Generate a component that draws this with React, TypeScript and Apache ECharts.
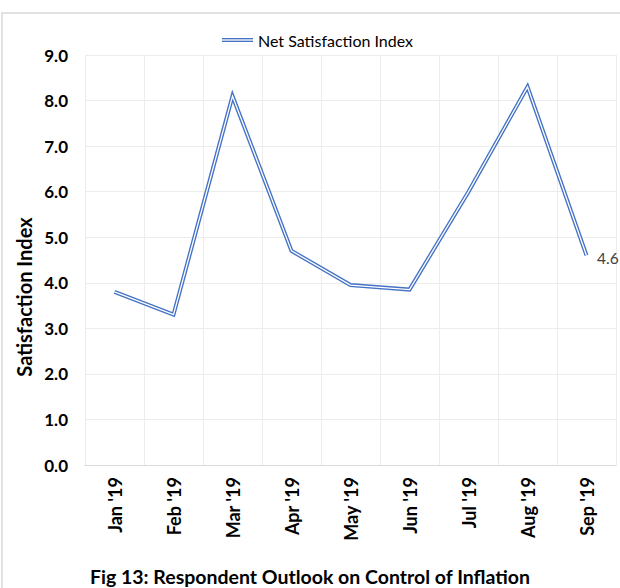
import React, { useEffect, useRef } from "react";
import * as echarts from "echarts";

const categories = ["Jan '19", "Feb '19", "Mar '19", "Apr '19", "May '19", "Jun '19", "Jul '19", "Aug '19", "Sep '19"];
const netSatisfaction = [3.8, 3.3, 8.1, 4.7, 3.95, 3.85, 6.0, 8.3, 4.6];
const yTicks = { min: 0, max: 9, interval: 1 };
const seriesName = "Net Satisfaction Index";
const yAxisTitle = "Satisfaction Index";
const chartTitle = "Fig 13: Respondent Outlook on Control of Inflation";

const FONT = "Lato, 'Noto Sans', sans-serif";
const BLUE = "#4472C4";

export default function App() {
  const ref = useRef<HTMLDivElement>(null);
  useEffect(() => {
    if (!ref.current) return;
    const chart = echarts.init(ref.current, null, { renderer: "svg" });
    const lastIdx = netSatisfaction.length - 1;
    chart.setOption({
      animation: false,
      backgroundColor: "#ffffff",
      grid: { left: 85, right: 4, top: 55, bottom: 123 },
      xAxis: {
        type: "category",
        data: categories,
        boundaryGap: true,
        axisLine: { show: true, lineStyle: { color: "#d9d9d9", width: 1 } },
        axisTick: { show: false },
        splitLine: { show: true, lineStyle: { color: "#ececec", width: 1 } },
        axisLabel: {
          rotate: 90,
          margin: 12,
          color: "#000",
          fontFamily: FONT,
          fontWeight: "bold",
          fontSize: 18,
          interval: 0,
        },
      },
      yAxis: {
        type: "value",
        min: yTicks.min,
        max: yTicks.max,
        interval: yTicks.interval,
        axisLine: { show: false },
        axisTick: { show: false },
        splitLine: { show: true, lineStyle: { color: "#ececec", width: 1 } },
        axisLabel: {
          margin: 17,
          color: "#000",
          fontFamily: FONT,
          fontWeight: "bold",
          fontSize: 17,
          formatter: (v: number) => v.toFixed(1),
        },
      },
      series: [
        {
          name: seriesName,
          type: "line",
          data: netSatisfaction,
          symbol: "none",
          lineStyle: { color: BLUE, width: 4, join: "miter" },
          z: 2,
        },
        {
          name: seriesName + " inner",
          type: "line",
          data: netSatisfaction,
          symbol: "circle",
          symbolSize: 1,
          showSymbol: true,
          itemStyle: { color: "rgba(255,255,255,0)" },
          label: {
            show: true,
            position: "right",
            distance: 10,
            offset: [0, 3],
            formatter: (p: any) => (p.dataIndex === lastIdx ? Number(p.value).toFixed(1) : ""),
            color: "#404040",
            fontFamily: FONT,
            fontSize: 15.5,
          },
          lineStyle: { color: "#ffffff", width: 1.3, join: "miter" },
          z: 3,
        },
      ],
      graphic: [
        {
          type: "rect",
          shape: { x: 2, y: 13, width: 700, height: 700 },
          style: { fill: "none", stroke: "#d9d9d9", lineWidth: 1.5 },
          silent: true,
          z: 0,
        },
        {
          type: "text",
          x: 24,
          y: 297,
          rotation: Math.PI / 2,
          style: {
            text: yAxisTitle,
            fill: "#000",
            font: `bold 20px ${FONT}`,
            verticalAlign: "middle",
            textAlign: "center",
          },
          z: 10,
        },
        {
          type: "line",
          shape: { x1: 222, y1: 40, x2: 253, y2: 40 },
          style: { stroke: BLUE, lineWidth: 4 },
          z: 10,
        },
        {
          type: "line",
          shape: { x1: 222, y1: 40, x2: 253, y2: 40 },
          style: { stroke: "#ffffff", lineWidth: 1.3 },
          z: 11,
        },
        {
          type: "text",
          x: 258,
          y: 40,
          style: {
            text: seriesName,
            fill: "#000",
            font: `16px ${FONT}`,
            verticalAlign: "middle",
            textAlign: "left",
          },
          z: 10,
        },
        {
          type: "text",
          x: 310,
          y: 576,
          style: {
            text: chartTitle,
            fill: "#000",
            font: `bold 19.5px ${FONT}`,
            verticalAlign: "middle",
            textAlign: "center",
          },
          z: 10,
        },
      ],
    });
    return () => chart.dispose();
  }, []);
  return <div ref={ref} style={{ width: 620, height: 588, position: "absolute", left: 0, top: 0 }} />;
}
